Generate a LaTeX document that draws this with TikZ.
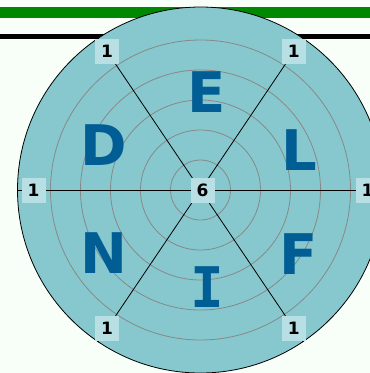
\documentclass[tikz,border=0pt]{standalone}
\usepackage{fontspec}
\setmainfont{DejaVu Sans}
\newfontfamily\barfont{DejaVu Sans Mono}
\usetikzlibrary{positioning}
\definecolor{pagebg}{RGB}{248,255,248}
\definecolor{greenbar}{RGB}{0,136,0}
\definecolor{wheelfill}{RGB}{134,200,206}
\definecolor{ringgray}{RGB}{136,136,136}
\definecolor{boxfill}{RGB}{184,224,228}
\definecolor{lettercol}{RGB}{0,94,148}

\begin{document}
\begin{tikzpicture}[
  x=1pt, y=-1pt,
  wheel/.style={circle, draw=black, fill=wheelfill, minimum size=366pt, inner sep=0pt, line width=0.8pt},
  ringline/.style={draw=ringgray, line width=0.8pt},
  spoke/.style={draw=black, line width=0.8pt},
  score/.style={fill=boxfill, minimum width=24pt, minimum height=25pt, inner sep=0pt,
    font=\fontsize{17}{18}\selectfont\bfseries},
  letter/.style={text=lettercol, inner sep=0pt, font=\fontsize{56}{60}\selectfont\bfseries}
]
  \useasboundingbox (0,0) rectangle (370,373);
  \fill[pagebg] (0,0) rectangle (370,373);
  \fill[greenbar] (0,7) rectangle (370,18);
  \fill[black] (0,34) rectangle (370,39);

  \node[wheel] (wheel) at (200.5,190) {};
  \foreach \r in {30,60,90,120,150}
    \draw[ringline] (wheel.center) circle[radius=\r];

  \foreach \a in {0,56,124,180,236,304}
    \draw[spoke] (wheel.center) -- (wheel.\a);

  \node[score] (hub) at ([xshift=2pt]wheel.center) {6};
  \foreach \a/\n in {0/r,56/tr,124/tl,180/l,236/bl,304/br}
    \node[score] (score\n) at ([shift={(\a:167pt)}]wheel.center) {1};

  \node[letter] (lE) at (206.5,92.5) {E};
  \node[letter] (lD) at (104,145) {D};
  \node[letter] (lL) at (299,150) {L};
  \node[letter] (lN) at (104,253) {N};
  \node[letter] (lF) at (299,254) {F};
  \node[letter] (lI) at (207,287) {\barfont I};
\end{tikzpicture}
\end{document}
